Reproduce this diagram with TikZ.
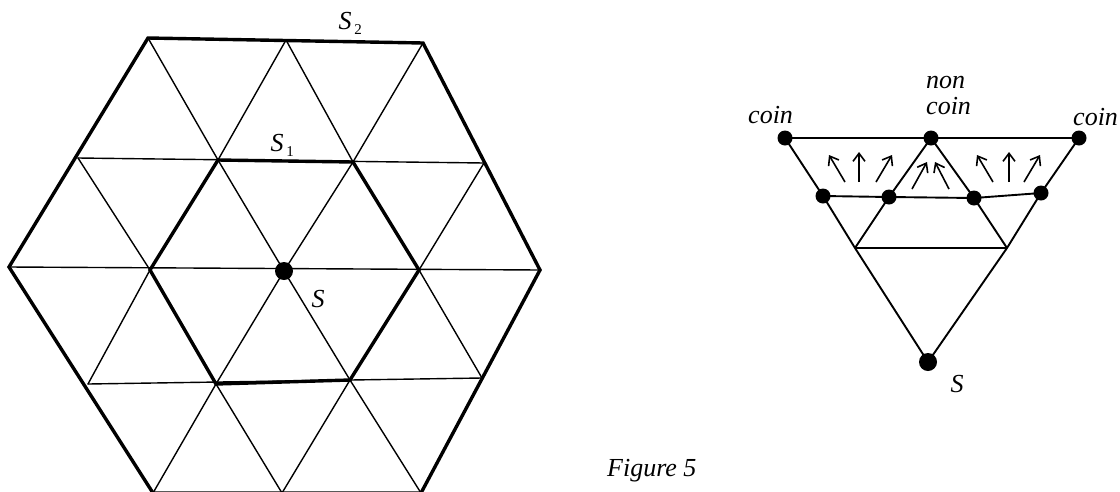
\documentclass[tikz,border=0pt]{standalone}
\usepackage{fontspec}
\setmainfont{Liberation Serif}
\usetikzlibrary{arrows.meta}
\begin{document}
\begin{tikzpicture}[x=1pt,y=-1pt,
  lattice/.style={line width=1.4pt, line cap=round},
  rim/.style={line width=3.4pt, line join=miter},
  rline/.style={line width=1.9pt},
  dotnode/.style={circle,fill=black,inner sep=0pt,minimum size=15pt},
  bigdot/.style={circle,fill=black,inner sep=0pt,minimum size=18pt},
  lab/.style={font=\fontsize{26}{30}\selectfont\itshape, inner sep=0pt, anchor=base},
  subl/.style={font=\fontsize{15}{17}\selectfont, inner sep=0pt, anchor=base},
  arr/.style={line width=1.6pt, -{Straight Barb[length=8pt,width=12pt]}}
]
\useasboundingbox (0,0) rectangle (1120,491);
% ---------- left hexagon lattice ----------
\coordinate (A0) at (148,38);  \coordinate (A1) at (286,40);  \coordinate (A2) at (423,43);
\coordinate (B0) at (78,158);  \coordinate (B1) at (218,160); \coordinate (B2) at (353,162); \coordinate (B3) at (484,163);
\coordinate (C0) at (9,267);   \coordinate (C1) at (150,270); \coordinate (C2) at (284,271); \coordinate (C3) at (419,270); \coordinate (C4) at (540,270);
\coordinate (D0) at (88,384);  \coordinate (D1) at (216,384); \coordinate (D2) at (350,380); \coordinate (D3) at (482,378);
\coordinate (E0) at (153,493); \coordinate (E1) at (282,493); \coordinate (E2) at (421,493);
% horizontal rows
\draw[lattice] (B0) -- (B3);
\draw[lattice] (C0) -- (C4);
\draw[lattice] (D0) -- (D3);
% "\" lines
\draw[lattice] (A0) -- (B1) -- (C2) -- (D2) -- (E2);
\draw[lattice] (A1) -- (B2) -- (C3) -- (D3);
\draw[lattice] (B0) -- (C1) -- (D1) -- (E1);
% "/" lines
\draw[lattice] (A2) -- (B2) -- (C2) -- (D1) -- (E0);
\draw[lattice] (A1) -- (B1) -- (C1) -- (D0);
\draw[lattice] (B3) -- (C3) -- (D2) -- (E1);
% thick hexagons
\draw[rim] (A0) -- (A2) -- (C4) -- (E2) -- (E0) -- (C0) -- cycle;
\draw[rim] (B1) -- (B2) -- (C3) -- (D2) -- (D1) -- (C1) -- cycle;
\node[bigdot] (Sdot) at (C2) {};
% labels
\node[lab] (S2) at (345,29) {S};
\node[subl] (S2i) at (358,34) {2};
\node[lab] (S1) at (277,151) {S};
\node[subl] (S1i) at (290,156) {1};
\node[lab] (Slab) at (318,307) {S};
% ---------- right figure ----------
\coordinate (CL) at (785,138); \coordinate (NC) at (931,138); \coordinate (CR) at (1079,138);
\coordinate (P1) at (823,196); \coordinate (P2) at (889,197); \coordinate (P3) at (974,198); \coordinate (P4) at (1041,193);
\coordinate (Q1) at (855,248); \coordinate (Q2) at (1007,248);
\coordinate (SR) at (928,362);
\draw[rline] (CL) -- (NC) -- (CR);
\draw[rline] (CL) -- (P1) -- (Q1) -- (SR);
\draw[rline] (CR) -- (P4) -- (Q2) -- (SR);
\draw[rline] (NC) -- (P2) -- (Q1);
\draw[rline] (NC) -- (P3) -- (Q2);
\draw[rline] (P1) -- (P2) -- (P3) -- (P4);
\draw[rline] (Q1) -- (Q2);
\foreach \p in {CL,NC,CR,P1,P2,P3,P4} \node[dotnode] (d\p) at (\p) {};
\node[bigdot] (dSR) at (SR) {};
% arrows
\coordinate (l1a) at (845,182); \coordinate (l1b) at (829,155);
\coordinate (l2a) at (859,182); \coordinate (l2b) at (859,152);
\coordinate (l3a) at (876,182); \coordinate (l3b) at (892,155);
\coordinate (m1a) at (912,189); \coordinate (m1b) at (927,162);
\coordinate (m2a) at (949,189); \coordinate (m2b) at (935,162);
\coordinate (r1a) at (993,182); \coordinate (r1b) at (977,155);
\coordinate (r2a) at (1009,182); \coordinate (r2b) at (1009,152);
\coordinate (r3a) at (1024,182); \coordinate (r3b) at (1040,155);
\foreach \a in {l1,l2,l3,m1,m2,r1,r2,r3} \draw[arr] (\a a) -- (\a b);
% labels
\node[lab, anchor=base west] (coinL) at (748,123) {coin};
\node[lab, anchor=base west] (non) at (926,88) {non};
\node[lab, anchor=base west] (coinM) at (926,114) {coin};
\node[lab, anchor=base west] (coinR) at (1073,125) {coin};
\node[lab] (SRlab) at (957,392) {S};
\node[lab, anchor=base west] (fig) at (607,476) {Figure 5};
\end{tikzpicture}
\end{document}
